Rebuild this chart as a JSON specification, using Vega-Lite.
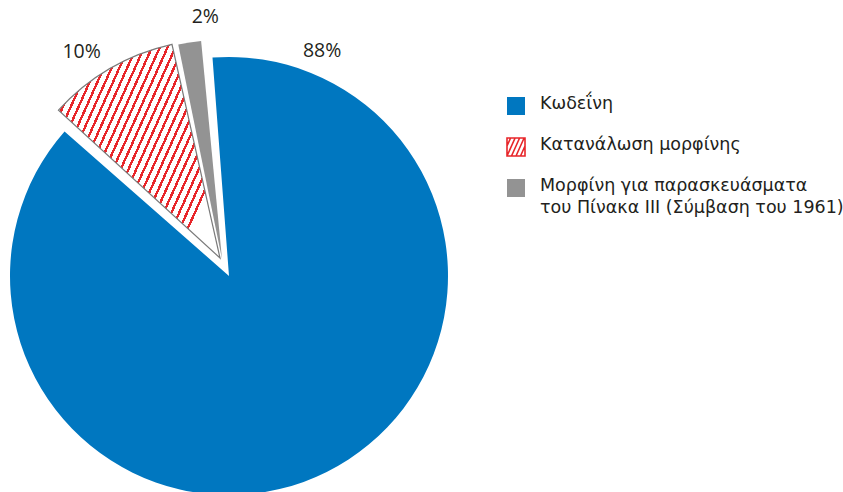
{
  "$schema": "https://vega.github.io/schema/vega-lite/v6.json",
  "autosize": {"type": "none"},
  "padding": 0,
  "width": 843,
  "height": 492,
  "background": "white",
  "config": {"view": {"stroke": null}},
  "data": {
    "values": [
      {"cat": "Κωδεΐνη", "value": 88, "order": 1, "label": "88%"},
      {"cat": "Κατανάλωση μορφίνης", "value": 10, "order": 2, "label": "10%"},
      {"cat": "Μορφίνη για παρασκευάσματα του Πίνακα III (Σύμβαση του 1961)", "value": 2, "order": 3, "label": "2%"}
    ]
  },
  "transform": [
    {"stack": "value", "groupby": [], "sort": [{"field": "order", "order": "ascending"}], "as": ["v0", "v1"]},
    {"calculate": "(datum.v0 + datum.v1) / 2", "as": "mid"}
  ],
  "layer": [
    {
      "transform": [{"filter": "datum.order == 1"}],
      "mark": {"type": "arc", "x": 229, "y": 276, "outerRadius": 219, "padAngle": 0.02},
      "encoding": {
        "theta": {"field": "v0", "type": "quantitative", "scale": {"domain": [0, 100], "range": [-0.0855, 6.1977], "zero": false}},
        "theta2": {"field": "v1"},
        "color": {
          "field": "cat",
          "type": "nominal",
          "sort": null,
          "scale": {
            "domain": ["Κωδεΐνη", "Κατανάλωση μορφίνης", "Μορφίνη για παρασκευάσματα του Πίνακα III (Σύμβαση του 1961)"],
            "range": ["#0077c0", "#e8262a", "#939393"]
          },
          "legend": {
            "title": null,
            "orient": "none",
            "legendX": 506,
            "legendY": 96,
            "symbolType": "square",
            "symbolSize": 324,
            "symbolStrokeWidth": 0,
            "labelFont": "DejaVu Sans",
            "labelFontSize": 17.5,
            "labelColor": "#231f20",
            "labelLimit": 400,
            "labelOffset": 14,
            "rowPadding": 15,
            "labelBaseline": "top",
            "labelExpr": "indexof(datum.label, 'Πίνακα') >= 0 ? ['Μορφίνη για παρασκευάσματα', 'του Πίνακα III (Σύμβαση του 1961)'] : datum.label",
            "encoding": {
              "labels": {"lineHeight": {"value": 22}, "dy": {"value": -11}},
              "symbols": {
                "shape": {"value": {"expr": "datum.value === 'Κατανάλωση μορφίνης' ? 'M-1,-1H1V1H-1Z M-1,-0.111L-0.6,-1 M-1,1L-0.1,-1 M-0.5,1L0.4,-1 M0,1L0.9,-1 M0.5,1L1,-0.111' : 'square'"}},
                "fillOpacity": {"value": {"expr": "datum.value === 'Κατανάλωση μορφίνης' ? 0 : 1"}},
                "stroke": {"value": {"expr": "datum.value === 'Κατανάλωση μορφίνης' ? '#e8262a' : 'transparent'"}},
                "strokeWidth": {"value": 1.6}
              }
            }
          }
        }
      }
    },
    {
      "transform": [{"filter": "datum.order == 2"}],
      "mark": {
        "type": "arc", "x": 220, "y": 258, "outerRadius": 219, "padAngle": 0.02,
        "stroke": "#7a7a7a", "strokeWidth": 1.2,
        "fill": {
          "gradient": "linear", "x1": 0, "y1": 0, "x2": 1, "y2": 0.593,
          "stops": [
            {"offset": 0, "color": "#e8262a"}, {"offset": 0.0118, "color": "#e8262a"}, {"offset": 0.0118, "color": "#ffffff"}, {"offset": 0.0357, "color": "#ffffff"},
            {"offset": 0.0357, "color": "#e8262a"}, {"offset": 0.0475, "color": "#e8262a"}, {"offset": 0.0475, "color": "#ffffff"}, {"offset": 0.0714, "color": "#ffffff"},
            {"offset": 0.0714, "color": "#e8262a"}, {"offset": 0.0832, "color": "#e8262a"}, {"offset": 0.0832, "color": "#ffffff"}, {"offset": 0.1071, "color": "#ffffff"},
            {"offset": 0.1071, "color": "#e8262a"}, {"offset": 0.1189, "color": "#e8262a"}, {"offset": 0.1189, "color": "#ffffff"}, {"offset": 0.1429, "color": "#ffffff"},
            {"offset": 0.1429, "color": "#e8262a"}, {"offset": 0.1546, "color": "#e8262a"}, {"offset": 0.1546, "color": "#ffffff"}, {"offset": 0.1786, "color": "#ffffff"},
            {"offset": 0.1786, "color": "#e8262a"}, {"offset": 0.1904, "color": "#e8262a"}, {"offset": 0.1904, "color": "#ffffff"}, {"offset": 0.2143, "color": "#ffffff"},
            {"offset": 0.2143, "color": "#e8262a"}, {"offset": 0.2261, "color": "#e8262a"}, {"offset": 0.2261, "color": "#ffffff"}, {"offset": 0.25, "color": "#ffffff"},
            {"offset": 0.25, "color": "#e8262a"}, {"offset": 0.2618, "color": "#e8262a"}, {"offset": 0.2618, "color": "#ffffff"}, {"offset": 0.2857, "color": "#ffffff"},
            {"offset": 0.2857, "color": "#e8262a"}, {"offset": 0.2975, "color": "#e8262a"}, {"offset": 0.2975, "color": "#ffffff"}, {"offset": 0.3214, "color": "#ffffff"},
            {"offset": 0.3214, "color": "#e8262a"}, {"offset": 0.3332, "color": "#e8262a"}, {"offset": 0.3332, "color": "#ffffff"}, {"offset": 0.3571, "color": "#ffffff"},
            {"offset": 0.3571, "color": "#e8262a"}, {"offset": 0.3689, "color": "#e8262a"}, {"offset": 0.3689, "color": "#ffffff"}, {"offset": 0.3929, "color": "#ffffff"},
            {"offset": 0.3929, "color": "#e8262a"}, {"offset": 0.4046, "color": "#e8262a"}, {"offset": 0.4046, "color": "#ffffff"}, {"offset": 0.4286, "color": "#ffffff"},
            {"offset": 0.4286, "color": "#e8262a"}, {"offset": 0.4404, "color": "#e8262a"}, {"offset": 0.4404, "color": "#ffffff"}, {"offset": 0.4643, "color": "#ffffff"},
            {"offset": 0.4643, "color": "#e8262a"}, {"offset": 0.4761, "color": "#e8262a"}, {"offset": 0.4761, "color": "#ffffff"}, {"offset": 0.5, "color": "#ffffff"},
            {"offset": 0.5, "color": "#e8262a"}, {"offset": 0.5118, "color": "#e8262a"}, {"offset": 0.5118, "color": "#ffffff"}, {"offset": 0.5357, "color": "#ffffff"},
            {"offset": 0.5357, "color": "#e8262a"}, {"offset": 0.5475, "color": "#e8262a"}, {"offset": 0.5475, "color": "#ffffff"}, {"offset": 0.5714, "color": "#ffffff"},
            {"offset": 0.5714, "color": "#e8262a"}, {"offset": 0.5832, "color": "#e8262a"}, {"offset": 0.5832, "color": "#ffffff"}, {"offset": 0.6071, "color": "#ffffff"},
            {"offset": 0.6071, "color": "#e8262a"}, {"offset": 0.6189, "color": "#e8262a"}, {"offset": 0.6189, "color": "#ffffff"}, {"offset": 0.6429, "color": "#ffffff"},
            {"offset": 0.6429, "color": "#e8262a"}, {"offset": 0.6546, "color": "#e8262a"}, {"offset": 0.6546, "color": "#ffffff"}, {"offset": 0.6786, "color": "#ffffff"},
            {"offset": 0.6786, "color": "#e8262a"}, {"offset": 0.6904, "color": "#e8262a"}, {"offset": 0.6904, "color": "#ffffff"}, {"offset": 0.7143, "color": "#ffffff"},
            {"offset": 0.7143, "color": "#e8262a"}, {"offset": 0.7261, "color": "#e8262a"}, {"offset": 0.7261, "color": "#ffffff"}, {"offset": 0.75, "color": "#ffffff"},
            {"offset": 0.75, "color": "#e8262a"}, {"offset": 0.7618, "color": "#e8262a"}, {"offset": 0.7618, "color": "#ffffff"}, {"offset": 0.7857, "color": "#ffffff"},
            {"offset": 0.7857, "color": "#e8262a"}, {"offset": 0.7975, "color": "#e8262a"}, {"offset": 0.7975, "color": "#ffffff"}, {"offset": 0.8214, "color": "#ffffff"},
            {"offset": 0.8214, "color": "#e8262a"}, {"offset": 0.8332, "color": "#e8262a"}, {"offset": 0.8332, "color": "#ffffff"}, {"offset": 0.8571, "color": "#ffffff"},
            {"offset": 0.8571, "color": "#e8262a"}, {"offset": 0.8689, "color": "#e8262a"}, {"offset": 0.8689, "color": "#ffffff"}, {"offset": 0.8929, "color": "#ffffff"},
            {"offset": 0.8929, "color": "#e8262a"}, {"offset": 0.9046, "color": "#e8262a"}, {"offset": 0.9046, "color": "#ffffff"}, {"offset": 0.9286, "color": "#ffffff"},
            {"offset": 0.9286, "color": "#e8262a"}, {"offset": 0.9404, "color": "#e8262a"}, {"offset": 0.9404, "color": "#ffffff"}, {"offset": 0.9643, "color": "#ffffff"},
            {"offset": 0.9643, "color": "#e8262a"}, {"offset": 0.9761, "color": "#e8262a"}, {"offset": 0.9761, "color": "#ffffff"}, {"offset": 1, "color": "#ffffff"}
          ]
        }
      },
      "encoding": {
        "theta": {"field": "v0", "type": "quantitative", "scale": {"domain": [0, 100], "range": [-0.0855, 6.1977], "zero": false}},
        "theta2": {"field": "v1"}
      }
    },
    {
      "transform": [{"filter": "datum.order == 3"}],
      "mark": {"type": "arc", "x": 222, "y": 259, "outerRadius": 219, "padAngle": 0.02},
      "encoding": {
        "theta": {"field": "v0", "type": "quantitative", "scale": {"domain": [0, 100], "range": [-0.0855, 6.1977], "zero": false}},
        "theta2": {"field": "v1"},
        "color": {"field": "cat", "type": "nominal", "sort": null, "legend": null}
      }
    },
    {
      "transform": [{"filter": "datum.order == 1"}],
      "mark": {"type": "text", "x": 229, "y": 276, "radius": 244, "dx": 114, "dy": 18, "font": "Open Sans", "fontSize": 19.5, "color": "#231f20", "align": "center", "baseline": "middle"},
      "encoding": {
        "theta": {"field": "v0", "type": "quantitative", "scale": {"domain": [0, 100], "range": [-0.0855, 6.1977], "zero": false}},
        "text": {"field": "label"}
      }
    },
    {
      "transform": [{"filter": "datum.order == 2"}],
      "mark": {"type": "text", "x": 229, "y": 276, "radius": 262, "dx": -16, "dy": 3, "font": "Open Sans", "fontSize": 19.5, "color": "#231f20", "align": "center", "baseline": "middle"},
      "encoding": {
        "theta": {"field": "mid", "type": "quantitative", "scale": {"domain": [0, 100], "range": [-0.0855, 6.1977], "zero": false}},
        "text": {"field": "label"}
      }
    },
    {
      "transform": [{"filter": "datum.order == 3"}],
      "mark": {"type": "text", "x": 229, "y": 276, "radius": 262, "dx": 15, "dy": 0, "font": "Open Sans", "fontSize": 19.5, "color": "#231f20", "align": "center", "baseline": "middle"},
      "encoding": {
        "theta": {"field": "mid", "type": "quantitative", "scale": {"domain": [0, 100], "range": [-0.0855, 6.1977], "zero": false}},
        "text": {"field": "label"}
      }
    }
  ]
}
